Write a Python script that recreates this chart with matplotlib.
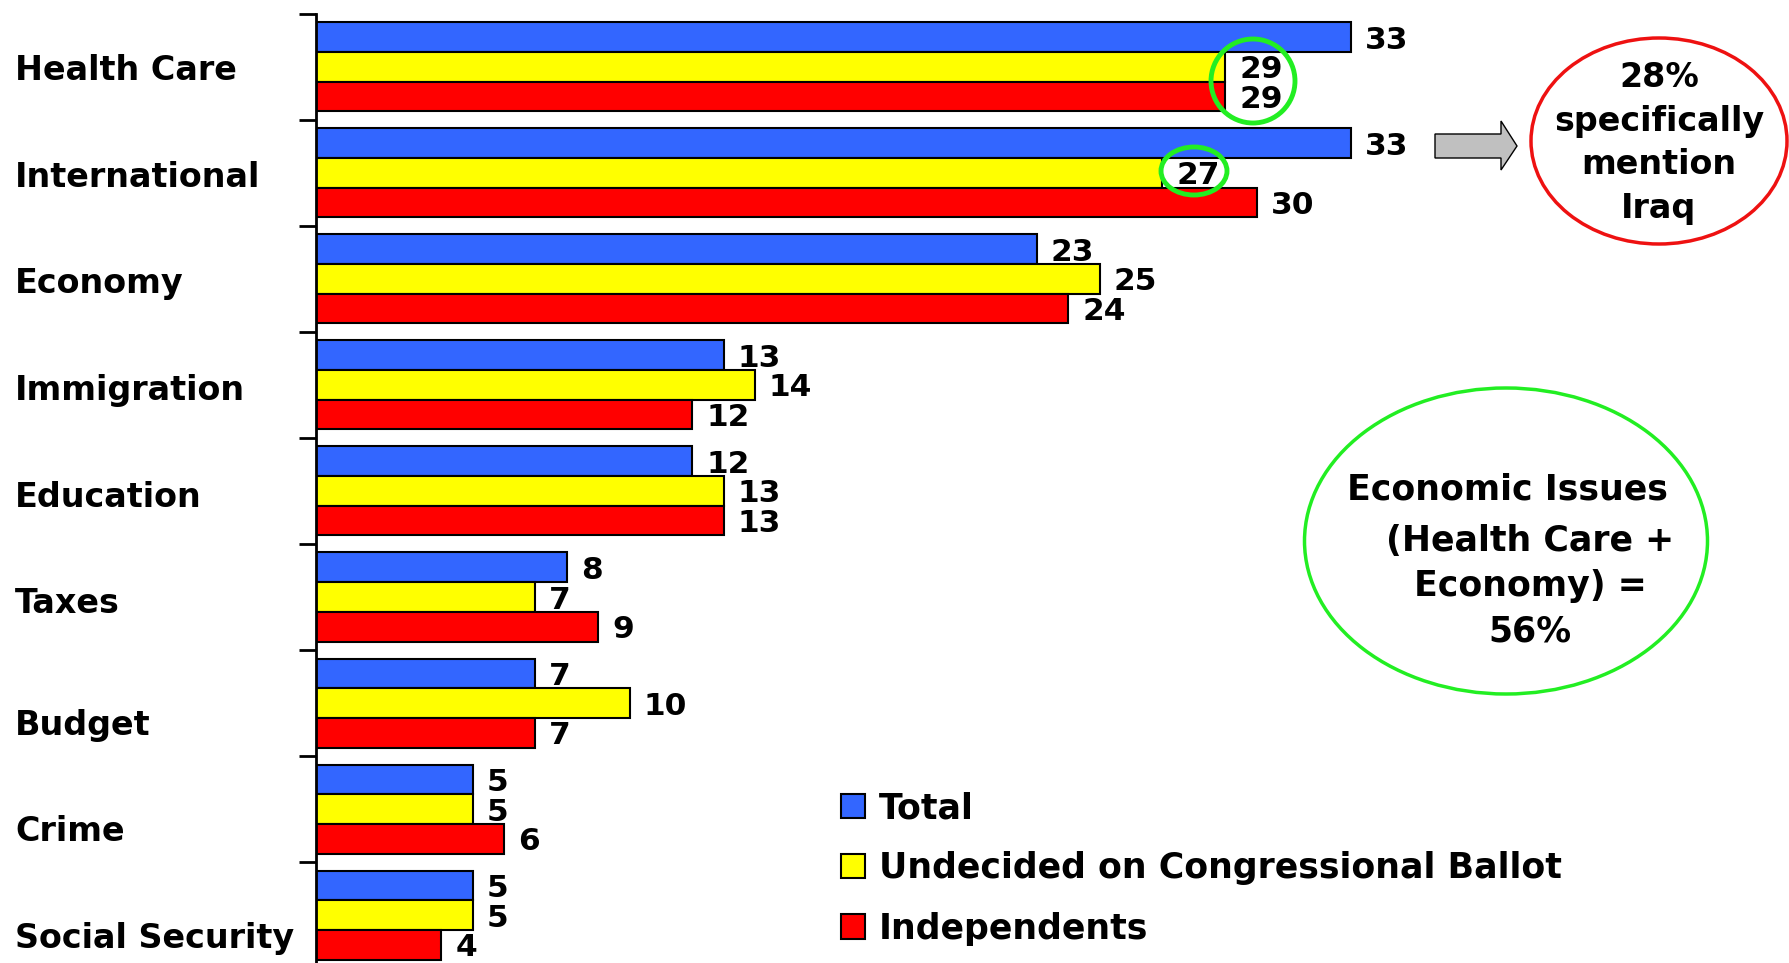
import numpy as np
import matplotlib
matplotlib.use("Agg")
import matplotlib.pyplot as plt
import matplotlib.transforms as mtransforms
from matplotlib.patches import Ellipse, Polygon

categories = ["Health Care", "International", "Economy", "Immigration", "Education",
              "Taxes", "Budget", "Crime", "Social Security"]
total = [33, 33, 23, 13, 12, 8, 7, 5, 5]
undecided = [29, 27, 25, 14, 13, 7, 10, 5, 5]
independents = [29, 30, 24, 12, 13, 9, 7, 6, 4]
series_names = ["Total", "Undecided on Congressional Ballot", "Independents"]

W, H = 1790, 963


def fx(px):
    return px / W


def fy(py):
    return 1 - py / H


plt.rcParams['font.family'] = ['DejaVu Sans']
fig = plt.figure(figsize=(W / 100, H / 100), dpi=100)
ax = fig.add_axes([fx(316), 0, 45 * 31.35 / W, fy(13.7)])

y = np.arange(len(categories))
h = 0.28
colors = ['#3366FF', '#FFFF00', '#FF0000']
for k, (vals, c, name) in enumerate(zip([total, undecided, independents], colors, series_names)):
    bars = ax.barh(y + (k - 1) * h, vals, height=h, color=c, edgecolor='black',
                   linewidth=1.5, label=name)
    labels = ax.bar_label(bars, padding=10, fontsize=22.5, fontweight='bold')
    for t in labels:
        t.set_va('center_baseline')

ax.set_xlim(0, 45)
ax.set_ylim(8.451, -0.5)
for s in ['top', 'right', 'bottom']:
    ax.spines[s].set_visible(False)
ax.spines['left'].set_linewidth(2)
ax.set_xticks([])
ax.set_yticks(np.arange(-0.5, 8, 1))
ax.set_yticklabels([])
ax.tick_params(axis='y', length=12, width=2, direction='out')

# category names, left aligned at the figure edge
trans = mtransforms.blended_transform_factory(fig.transFigure, ax.transData)
label_shift = [0.04, 0.04, 0.04, 0.05, 0.06, 0.06, 0.21, 0.21, 0.22]
for i, (cat, dy) in enumerate(zip(categories, label_shift)):
    ax.text(fx(15), i + dy, cat, transform=trans, ha='left', va='center',
            fontsize=24, fontweight='bold')

fig.legend(loc='upper left', bbox_to_anchor=(fx(841), fy(791)), frameon=False,
           prop={'weight': 'bold', 'size': 25}, handlelength=0.7, handleheight=0.7,
           handletextpad=0.4, labelspacing=0.76, borderpad=0, borderaxespad=0)

green = '#22EE22'
# small circles around the 29s and 27
fig.add_artist(Ellipse((fx(1253), fy(81)), 84 / W, 84 / H, transform=fig.transFigure,
                       fill=False, edgecolor=green, lw=3.5))
fig.add_artist(Ellipse((fx(1194), fy(171)), 66 / W, 48 / H, transform=fig.transFigure,
                       fill=False, edgecolor=green, lw=3.5))

# grey arrow
arrow_pts = [(1435, 134), (1501, 134), (1501, 121), (1517, 146), (1501, 170), (1501, 158), (1435, 158)]
fig.add_artist(Polygon([(fx(a), fy(b)) for a, b in arrow_pts], closed=True,
                       transform=fig.transFigure, facecolor='#C0C0C0', edgecolor='black', lw=1))

# red circle: Iraq
fig.add_artist(Ellipse((fx(1659), fy(141)), 256 / W, 206 / H, transform=fig.transFigure,
                       fill=False, edgecolor='#EE1111', lw=2.5))
fig.text(fx(1659), fy(143), "28%\nspecifically\nmention\nIraq", ha='center', va='center',
         ma='center', fontsize=24, fontweight='bold', linespacing=1.4)

# green ellipse: economic issues
fig.add_artist(Ellipse((fx(1506), fy(541)), 403 / W, 306 / H, transform=fig.transFigure,
                       fill=False, edgecolor=green, lw=2.5))
fig.text(fx(1507), fy(489), "Economic Issues", ha='center', va='center',
         fontsize=25, fontweight='bold')
fig.text(fx(1530), fy(586), "(Health Care +\nEconomy) =\n56%", ha='center', va='center',
         ma='center', fontsize=25, fontweight='bold', linespacing=1.42)

fig.savefig('out.png', dpi=100)
